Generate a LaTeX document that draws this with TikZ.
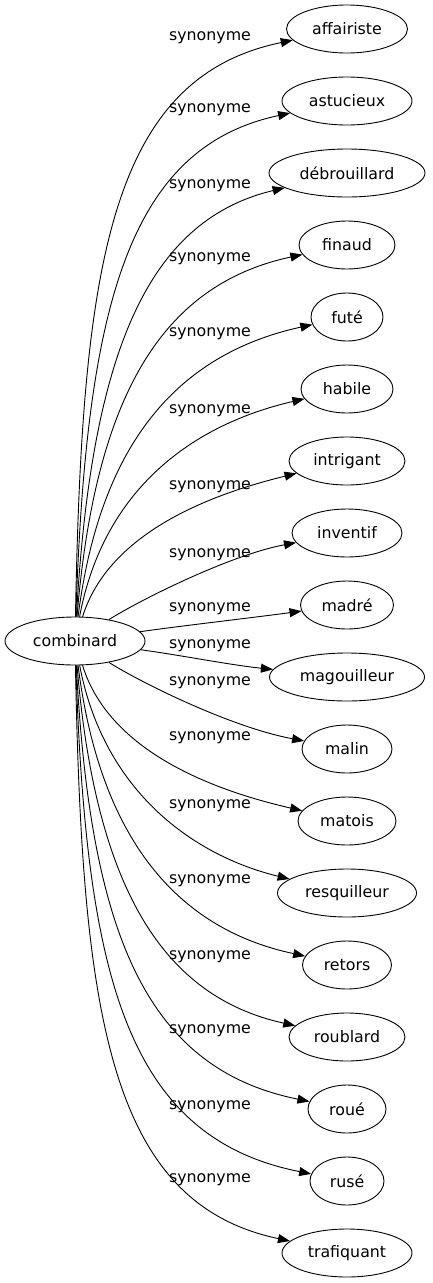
\documentclass[tikz,border=0pt]{standalone}
\usepackage{fontspec}
\setmainfont{DejaVu Sans}
\usetikzlibrary{shapes.geometric,arrows.meta}
\begin{document}
\begin{tikzpicture}[x=1pt,y=-1pt,
  word/.style={draw, ellipse, inner sep=0pt, minimum height=48pt, line width=0.9pt, font=\fontsize{15.8}{19}\selectfont},
  lab/.style={anchor=base, inner sep=0pt, font=\fontsize{15.8}{19}\selectfont},
  link/.style={line width=0.9pt, -{Triangle[length=12pt,width=9pt]}}]
\useasboundingbox (0,0) rectangle (432,1283);
% nodes
\node[word, minimum width=140pt] (c) at (75,641) {combinard};
\node[word, minimum width=121pt] (n1) at (347,29) {affairiste};
\node[word, minimum width=130pt] (n2) at (347,101) {astucieux};
\node[word, minimum width=156pt] (n3) at (347,173) {débrouillard};
\node[word, minimum width=96pt] (n4) at (347,245) {finaud};
\node[word, minimum width=72pt] (n5) at (347,317) {futé};
\node[word, minimum width=92pt] (n6) at (347,389) {habile};
\node[word, minimum width=116pt] (n7) at (347,461) {intrigant};
\node[word, minimum width=110pt] (n8) at (347,533) {inventif};
\node[word, minimum width=93pt] (n9) at (347,605) {madré};
\node[word, minimum width=155pt] (n10) at (347,677) {magouilleur};
\node[word, minimum width=90pt] (n11) at (347,749) {malin};
\node[word, minimum width=98pt] (n12) at (347,821) {matois};
\node[word, minimum width=139pt] (n13) at (347,893) {resquilleur};
\node[word, minimum width=89pt] (n14) at (347,965) {retors};
\node[word, minimum width=116pt] (n15) at (347,1037) {roublard};
\node[word, minimum width=78pt] (n16) at (347,1109) {roué};
\node[word, minimum width=74pt] (n17) at (347,1181) {rusé};
\node[word, minimum width=130pt] (n18) at (347,1253) {trafiquant};
% labels
\node[lab] (l1) at (210,40.5) {synonyme};
\node[lab] (l2) at (210,112.5) {synonyme};
\node[lab] (l3) at (210,188.5) {synonyme};
\node[lab] (l4) at (210,261.5) {synonyme};
\node[lab] (l5) at (210,336.5) {synonyme};
\node[lab] (l6) at (210,413.5) {synonyme};
\node[lab] (l7) at (210,489.5) {synonyme};
\node[lab] (l8) at (210,557.5) {synonyme};
\node[lab] (l9) at (210,611.5) {synonyme};
\node[lab] (l10) at (210,648.5) {synonyme};
\node[lab] (l11) at (210,685.5) {synonyme};
\node[lab] (l12) at (210,740.5) {synonyme};
\node[lab] (l13) at (210,808.5) {synonyme};
\node[lab] (l14) at (210,883.5) {synonyme};
\node[lab] (l15) at (210,959.5) {synonyme};
\node[lab] (l16) at (210,1033.5) {synonyme};
\node[lab] (l17) at (210,1109.5) {synonyme};
\node[lab] (l18) at (210,1182.5) {synonyme};
% edges
\draw[link] (c) .. controls (82,267) and (109,78) .. (n1);
\draw[link] (c) .. controls (86,311) and (126,148) .. (n2);
\draw[link] (c) .. controls (91,358) and (145,221) .. (n3);
\draw[link] (c) .. controls (95,399) and (160,285) .. (n4);
\draw[link] (c) .. controls (100,443) and (178,354) .. (n5);
\draw[link] (c) .. controls (104,487) and (195,424) .. (n6);
\draw[link] (c) .. controls (109,532) and (212,494) .. (n7);
\draw[link] (c) .. controls (140,600) and (230,555) .. (n8);
\draw[link] (c) .. controls (180,626) and (250,618) .. (n9);
\draw[link] (c) .. controls (180,655) and (230,665) .. (n10);
\draw[link] (c) .. controls (140,682) and (230,727) .. (n11);
\draw[link] (c) .. controls (109,751) and (212,790) .. (n12);
\draw[link] (c) .. controls (104,793) and (195,856) .. (n13);
\draw[link] (c) .. controls (100,840) and (178,929) .. (n14);
\draw[link] (c) .. controls (95,883) and (160,996) .. (n15);
\draw[link] (c) .. controls (90,928) and (143,1068) .. (n16);
\draw[link] (c) .. controls (86,973) and (125,1137) .. (n17);
\draw[link] (c) .. controls (82,1015) and (109,1203) .. (n18);
\end{tikzpicture}
\end{document}
